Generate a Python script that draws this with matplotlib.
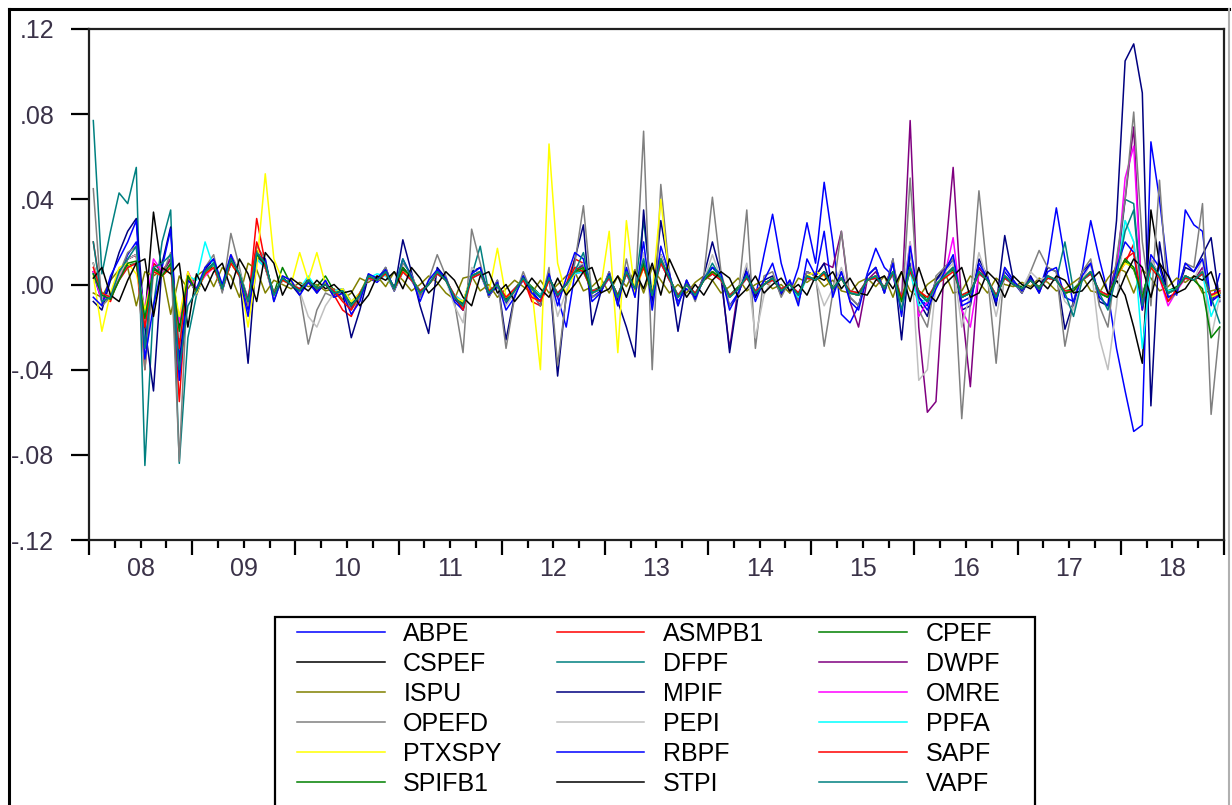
import numpy as np
import matplotlib
matplotlib.use('Agg')
import matplotlib.pyplot as plt
from matplotlib.lines import Line2D
from matplotlib.patches import Rectangle

plt.rcParams['font.family'] = ['Liberation Sans', 'DejaVu Sans']

# monthly observations 2008M01 .. 2018M12, values in thousandths
ABPE = [5, -8, -6, 4, 14, 20, -30, 10, 6, 12, -35, 4,
        -4, 5, 8, -3, 10, 6, -12, 12, 8, -6, 2, 1,
        -4, 3, -3, 1, -5, -2, -8, -6, 3, 1, 5, -3,
        6, 2, -5, 1, 5, 3, -7, -9, 3, 5, -5, -1,
        -9, -4, 2, -3, -8, 4, -6, -20, 5, 10, -6, -3,
        3, -7, 5, -4, 12, -8, 14, 4, -8, -2, -6, 3,
        8, 4, -10, -4, 6, -6, 14, 33, 10, -4, 8, 29,
        10, 48, 20, -14, -18, -10, 5, 17, 8, 4, -12, 10,
        -6, -10, 2, 6, 12, -8, -6, 8, 3, -8, 6, 1,
        -4, 4, -3, 10, 36, 12, -10, 6, 30, 12, -4, -30,
        -50, -69, -66, 67, 40, 5, -5, 35, 28, 25, -10, 5]
ASMPB1 = [20, -6, -8, 4, 12, 14, -40, 10, 6, 12, -55, 6,
          -4, 6, 10, -2, 14, 6, -10, 31, 10, -6, 3, 0,
          -4, 2, -2, 0, -5, -12, -15, -6, 4, 2, 6, -2,
          8, 3, -4, 0, 6, 2, -6, -10, 4, 6, -4, 0,
          -8, -3, 3, -8, -10, 3, -5, 0, 12, 10, -4, -2,
          4, -6, 6, -2, 10, -5, 14, 3, -6, 0, -5, 2,
          6, 3, -6, -2, 4, -4, 0, 3, -3, 0, -5, 4,
          2, 6, -2, 3, -4, -5, 2, 4, -2, 6, -8, 8,
          -4, -8, 0, 4, 8, -6, -4, 6, 2, -6, 4, 0,
          -2, 2, -2, 4, 2, -4, -3, 2, 6, -4, -6, 4,
          10, 19, -12, 10, 4, -4, -2, 4, 2, 6, -6, -4]
CPEF = [6, -4, -5, 3, 9, 10, -14, 7, 5, 9, -18, 5,
        -2, 5, 9, -1, 11, 6, -7, 13, 9, -4, 8, 0,
        -2, 2, -1, 4, -3, -3, -9, -4, 4, 2, 5, -1,
        7, 3, -3, 0, 5, 2, -5, -9, 4, 5, -3, 0,
        -7, -2, 3, -1, -5, 3, -4, 0, 5, 7, -3, -1,
        3, -5, 5, -1, 9, -4, 11, 3, -5, 0, -4, 2,
        5, 3, -5, -1, 3, -3, 0, 3, -2, 0, -4, 3,
        2, 5, -1, 3, -3, -4, 2, 3, -1, 5, -7, 7,
        -3, -7, 0, 3, 7, -5, -3, 5, 2, -5, 3, 0,
        -1, 2, -1, 3, 2, -3, -2, 2, 5, -3, -5, 3,
        11, 7, -5, 9, 3, -3, -1, 3, 2, 5, -5, -3]
CSPEF = [10, -6, -5, 4, 12, 14, -16, 34, 6, 8, -20, 5,
         -3, 6, 10, -2, 12, 5, -8, 16, 8, -5, 3, 0,
         -3, 2, -2, 0, -4, -3, -10, -5, 4, 2, 6, -2,
         8, 3, -4, 0, 6, 2, -6, -10, 4, 6, -4, 0,
         -8, -3, 3, -2, -6, 3, -5, 0, 6, 8, -4, -2,
         4, -6, 6, -2, 10, -5, 12, 3, -6, 0, -5, 2,
         6, 3, -6, -2, 4, -4, 0, 3, -3, 0, -5, 4,
         2, 6, -2, 3, -4, -5, 2, 4, -2, 6, -8, 8,
         -4, -8, 0, 4, 8, -6, -4, 6, 2, -6, 4, 0,
         -2, 2, -2, 4, 2, -4, -3, 2, 6, -4, -6, 2,
         -5, -20, -37, 35, 10, -4, -2, 4, 2, 6, -6, -4]
DFPF = [77, 5, 25, 43, 38, 55, -85, -10, 20, 35, -84, -25,
        -5, 6, 10, -2, 12, 6, -8, 14, 10, -6, 3, 0,
        -3, 2, -2, 0, -4, -3, -10, -5, 4, 2, 6, -2,
        8, 3, -4, 0, 6, 2, -6, -8, 4, 18, -4, 0,
        -8, -3, 3, -2, -6, 3, -5, 0, 6, 10, -4, -2,
        4, -6, 6, -2, 30, -5, 14, 3, -6, 0, -5, 2,
        8, 3, -6, -2, 4, -4, 0, 3, -3, 0, -5, 4,
        2, 6, -2, 3, -4, -5, 2, 4, -2, 6, -8, 8,
        -4, -8, 0, 4, 8, -6, -4, 6, 2, -6, 4, 0,
        -2, 2, -2, 4, 2, 20, -3, 2, 6, -4, -6, 4,
        40, 38, -6, 10, 4, -4, -2, 4, 2, 6, -6, -4]
DWPF = [6, -6, -6, 3, 12, 14, -20, 8, 5, 12, -28, 4,
        -3, 6, 10, -2, 12, 5, -9, 14, 9, -5, 3, 0,
        -3, 2, -3, 0, -4, -3, -11, -5, 4, 2, 6, -2,
        8, 3, -5, 0, 6, 2, -7, -10, 4, 6, -4, 0,
        -8, -3, 3, -2, -6, 3, -6, 0, 6, 9, -4, -2,
        4, -6, 6, -2, 11, -5, 12, 3, -6, 0, -5, 2,
        6, 3, -30, -2, 4, -4, 0, 3, -3, 0, -5, 6,
        4, 10, 8, 25, -8, -20, 2, 6, -2, 10, -8, 77,
        -20, -60, -55, 10, 55, -10, -48, 8, 2, -6, 4, 0,
        -2, 2, -2, 4, 2, -4, -3, 2, 6, -4, -6, 10,
        40, 74, -10, 12, 4, -4, -2, 4, 2, 8, -8, -4]
ISPU = [-4, -6, 2, 7, 8, -10, 6, 4, 7, -14, 4, -2,
        4, 7, -1, 8, 4, -6, 10, 7, -4, 2, 0, -2,
        1, -1, 0, -3, -2, -7, -4, 3, 1, 4, -1, 6,
        2, -3, 0, 4, 1, -4, -7, 3, 4, -3, 0, -6,
        -2, 2, -1, -4, 2, -4, 0, 4, 6, -3, -1, 3,
        -4, 4, -1, 7, -4, 8, 2, -4, 0, -4, 1, 4,
        2, -4, -1, 3, -3, 0, 2, -2, 0, -4, 3, 1,
        4, -1, 2, -3, -4, 1, 3, -1, 4, -6, 6, -3,
        -6, 0, 3, 6, -4, -3, 4, 1, -4, 3, 0, -1,
        1, -1, 3, 1, -3, -2, 1, 4, -3, -4, 3, 8,
        6, -4, 7, 3, -3, -1, 3, 1, 4, -4, -3, -2]
MPIF = [-8, -12, 2, 15, 25, 31, -20, -50, 10, 27, -40, 3,
        -4, 7, 12, -3, 13, 4, -37, 14, 10, -6, 3, 0,
        -5, 3, -4, 1, -6, -4, -25, -12, 4, 2, 8, -3,
        21, 6, -10, -23, 8, 3, -6, -12, 6, 8, -6, 2,
        -26, -5, 4, -4, -10, 6, -43, -5, 12, 28, -19, -4,
        6, -8, -20, -34, 35, -10, 30, 6, -22, 2, -6, 4,
        20, 5, -32, -5, 8, -6, 2, 4, -5, 2, -8, 6,
        4, 10, -4, 6, -6, -10, 4, 8, -4, 12, -26, 15,
        -8, -15, 2, 8, 12, -12, -10, 12, 4, -10, 23, 2,
        -4, 4, -4, 8, 6, -21, -8, 6, 10, -8, -10, 30,
        105, 113, 90, -57, 20, -6, -4, 8, 6, 14, 22, -8]
OMRE = [6, -8, -4, 4, 8, 10, -12, 12, 6, 8, -18, 6,
        -2, 4, 8, -2, 10, 4, -6, 12, 8, -4, 2, 0,
        -2, 2, -2, 0, -3, -2, -8, -4, 3, 2, 5, -2,
        6, 2, -3, 0, 5, 2, -5, -8, 3, 5, -3, 0,
        -6, -2, 2, -2, -5, 2, -4, 0, 5, 6, -3, -2,
        3, -5, 5, -2, 8, -4, 10, 2, -5, 0, -4, 2,
        5, 2, -5, -2, 3, -3, 0, 2, -2, 0, -4, 3,
        2, 5, -2, 3, -3, -4, 2, 3, -2, 5, -10, 20,
        -15, -8, 0, 4, 22, -12, -20, 5, 2, -5, 3, 0,
        -2, 2, -2, 3, 2, -3, -3, 2, 5, -3, -5, 3,
        50, 65, -10, 8, 3, -10, -3, 3, 2, 5, -5, -3]
OPEFD = [45, -10, -6, 5, 15, 18, -40, 6, 4, 15, -83, 5,
         -5, 8, 14, -4, 24, 8, -10, 18, 12, -8, 4, 2,
         -4, -28, -12, -4, -6, -4, -12, -6, 5, 2, 8, -3,
         10, 5, -6, 2, 14, 4, -8, -32, 26, 10, -6, 2,
         -30, -6, 6, -4, -10, 8, -38, -6, 10, 37, -6, -4,
         6, -10, 12, -6, 72, -40, 47, 5, -10, 2, -8, 4,
         41, 6, -10, -6, 35, -30, 4, 6, -6, 2, -8, 6,
         4, -29, -4, 25, -6, -10, 4, 8, -4, 12, -14, 50,
         -12, -20, 4, 8, 12, -63, -8, 44, 4, -37, 8, 2,
         -4, 6, 16, 8, 6, -29, -8, 6, 12, -10, -20, 12,
         40, 81, 20, -10, 49, -8, -4, 10, 8, 38, -61, -20]
PEPI = [10, -6, -4, 4, 12, 14, -18, 6, 4, 10, -25, 4,
        -4, 6, 10, -2, 14, 6, -8, 12, 8, -6, 2, 1,
        -3, -15, -20, -10, -4, -3, -8, -4, 3, 2, 5, -2,
        6, 3, -4, 1, 6, 2, -10, -18, 8, 5, -4, 0,
        -10, -4, 3, -2, -6, 4, -15, -3, 8, 10, -4, -2,
        4, -6, 6, -3, 15, -12, 14, 3, -6, 0, -5, 2,
        14, 3, -6, -3, 10, -25, -5, 3, -3, 0, -5, 4,
        2, -10, -2, 8, -4, -5, 2, 4, -2, 6, -10, 20,
        -45, -40, 0, 6, 10, -20, -4, 15, 2, -15, 4, 0,
        -2, 6, 2, 4, 2, -8, -12, 2, 10, -25, -40, -10,
        30, 20, -10, 12, 4, -4, -2, 4, 2, 12, -25, -6]
PPFA = [5, -4, -6, 2, 8, 10, -14, 6, 4, 8, -30, 4,
        2, 20, 8, -2, 10, 4, -7, 12, 8, -4, 2, 0,
        -2, 4, -2, 0, -3, -2, -8, -4, 3, 5, 4, -2,
        6, 2, -3, 0, 5, 2, -5, -8, 3, 5, -3, 0,
        -6, -2, 2, -2, -5, 2, -4, 0, 5, 6, -3, -2,
        3, -5, 5, -2, 8, -4, 10, 2, -5, 0, -4, 2,
        5, 2, -5, -2, 3, -3, 0, 2, -2, 0, -6, 3,
        2, 5, -2, 3, -3, -4, 2, 3, -2, 5, -6, 6,
        -10, -6, 0, 4, 6, -5, -3, 5, 2, -5, 3, 0,
        -2, 2, -2, 3, 2, -3, -3, 2, 5, -3, -5, 3,
        30, 20, -30, 8, 3, -3, -2, 3, 2, 5, -15, -5]
PTXSPY = [4, -22, -4, 8, 10, 5, -12, 6, 4, 8, -15, 6,
          -4, 5, 8, -2, 10, 4, -20, 8, 52, 12, 2, 0,
          15, 2, 15, 0, -4, -2, -8, -4, 4, 2, 5, -2,
          6, 3, -4, 0, 6, 2, -6, -8, 4, 6, -4, 17,
          -6, -3, 3, -2, -40, 66, 10, -5, 6, 8, -4, -2,
          25, -32, 30, -4, 8, -5, 40, 3, -6, 0, -5, 2,
          6, 3, -6, -2, 4, -4, 0, 3, -3, 0, -5, 4,
          6, 4, -2, 3, -4, -5, 2, 4, -2, 6, -8, 8,
          -4, -8, 0, 4, 8, -6, -4, 6, 2, -6, 4, 0,
          -2, 2, -2, 4, 2, -4, -3, 2, 6, -4, -6, 4,
          10, 8, -6, 8, 4, -4, -2, 4, 2, 6, -6, -4]
RBPF = [-6, -10, 4, 12, 20, 30, -35, -10, 8, 26, -45, 2,
        -2, 8, 12, 0, 14, 4, -15, 14, 12, -8, 4, 2,
        -5, 1, -4, 2, -6, -4, -14, -8, 5, 3, 7, -2,
        12, 4, -8, 2, 7, 3, -8, -12, 5, 8, -5, 1,
        -12, -6, 4, -4, -8, 5, -10, 3, 15, 12, -8, -4,
        5, -10, 8, -6, 20, -12, 18, 5, -10, 2, -7, 3,
        8, 5, -12, -4, 6, -8, 2, 10, -4, 2, -10, 12,
        4, 25, -6, 6, -8, -12, 4, 8, -4, 10, -15, 18,
        -6, -12, -2, 6, 14, -10, -8, 10, 3, -8, 8, 2,
        -3, 3, -4, 6, 8, -6, -8, 4, 10, -6, -10, 8,
        20, 15, -12, 14, 8, -6, -4, 10, 6, 12, -8, -5]
SAPF = [8, -4, -6, 2, 8, 10, -20, 6, 4, 8, -30, 4,
        -3, 5, 8, -2, 10, 4, -7, 20, 8, -4, 2, 0,
        -2, 2, -2, 0, -3, -8, -12, -4, 3, 2, 5, -2,
        6, 2, -3, 0, 5, 2, -5, -12, 3, 5, -3, 0,
        -6, -2, 2, -6, -8, 2, -4, 0, 8, 6, -3, -2,
        3, -5, 5, -2, 8, -4, 10, 2, -5, 0, -4, 2,
        5, 2, -5, -2, 3, -3, 0, 2, -2, 0, -4, 3,
        2, 5, -2, 3, -3, -4, 2, 3, -2, 5, -6, 6,
        -3, -6, 0, 3, 6, -5, -3, 5, 2, -5, 3, 0,
        -2, 2, -2, 3, 2, -3, -3, 2, 5, -3, -5, 3,
        12, 15, -8, 8, 3, -8, -2, 3, 2, 5, -5, -3]
SPIFB1 = [5, -5, -7, 2, 10, 11, -16, 8, 4, 10, -22, 4,
          -3, 6, 10, -2, 12, 5, -8, 14, 10, -5, 3, 0,
          -3, 2, -2, 0, -4, -3, -10, -5, 4, 2, 6, -2,
          8, 3, -4, 0, 6, 2, -6, -10, 4, 6, -4, 0,
          -8, -3, 3, -2, -6, 3, -5, 0, 6, 8, -4, -2,
          4, -6, 6, -2, 10, -5, 12, 3, -6, 0, -5, 2,
          6, 3, -6, -2, 4, -4, 0, 3, -3, 0, -5, 4,
          2, 6, -2, 3, -4, -5, 2, 4, -2, 6, -8, 8,
          -4, -8, 0, 4, 8, -6, -4, 6, 2, -6, 4, 0,
          -2, 2, -2, 4, 2, -4, -3, 2, 6, -4, -6, 4,
          12, 8, -6, 10, 4, -4, -2, 4, 2, -2, -25, -20]
STPI = [3, 8, -5, -8, 2, 10, 12, -15, 8, 5, 10, -20,
        5, -3, 6, 10, -2, 12, 5, -8, 15, 10, -5, 3,
        0, -3, 2, -2, 0, -4, -3, -10, -5, 4, 2, 6,
        -2, 8, 3, -4, 0, 6, 2, -6, -10, 4, 6, -4,
        0, -8, -3, 3, -2, -6, 3, -5, 0, 6, 8, -4,
        -2, 4, -6, 6, -2, 10, -5, 12, 3, -6, 0, -5,
        2, 6, 3, -6, -2, 4, -4, 0, 3, -3, 0, -5,
        4, 2, 6, -2, 3, -4, -5, 2, 4, -2, 6, -8,
        8, -4, -8, 0, 4, 8, -6, -4, 6, 2, -6, 4,
        0, -2, 2, -2, 4, 2, -4, -3, 2, 6, -4, -6,
        4, 12, 8, -6, 10, 4, -4, -2, 4, 2, 6, -6]
VAPF = [20, -8, -6, 6, 12, 18, -30, 8, 10, 14, -40, -10,
        -3, 6, 10, -2, 12, 5, -8, 15, 10, -5, 3, 0,
        -3, 2, -2, 0, -4, -3, -10, -5, 4, 2, 6, -2,
        12, 3, -4, 0, 6, 2, -6, -10, 4, 6, -4, 0,
        -8, -3, 3, -2, -6, 3, -5, 0, 6, 15, -4, -2,
        4, -6, 6, -2, 12, -5, 12, 3, -6, 0, -5, 2,
        10, 3, -6, -2, 4, -4, 0, 3, -3, 0, -5, 4,
        2, 6, -2, 3, -4, -5, 2, 4, -2, 6, -12, 8,
        -4, -8, 0, 4, 8, -6, -4, 6, 2, -6, 4, 0,
        -2, 2, -2, 4, 2, -4, -15, 2, 6, -4, -12, 4,
        25, 35, -10, 10, 4, -4, -2, 4, 2, 6, -6, -18]

names = ['ABPE', 'ASMPB1', 'CPEF', 'CSPEF', 'DFPF', 'DWPF', 'ISPU', 'MPIF',
         'OMRE', 'OPEFD', 'PEPI', 'PPFA', 'PTXSPY', 'RBPF', 'SAPF',
         'SPIFB1', 'STPI', 'VAPF']
series = [ABPE, ASMPB1, CPEF, CSPEF, DFPF, DWPF, ISPU, MPIF, OMRE, OPEFD,
          PEPI, PPFA, PTXSPY, RBPF, SAPF, SPIFB1, STPI, VAPF]
colors = ['#0000ff', '#ff0000', '#008000', '#000000', '#008080', '#800080',
          '#808000', '#000080', '#ff00ff', '#808080', '#c0c0c0', '#00ffff',
          '#ffff00', '#0000ff', '#ff0000', '#008000', '#000000', '#008080']

years = np.arange(2008, 2019)
year_labels = ['08', '09', '10', '11', '12', '13', '14', '15', '16', '17', '18']
yticks = [-0.12, -0.08, -0.04, 0.0, 0.04, 0.08, 0.12]
ytick_labels = ['-.12', '-.08', '-.04', '.00', '.04', '.08', '.12']

t = 2008 + (np.arange(len(ABPE)) + 0.5) / 12.0

W, H = 1232, 805
fig = plt.figure(figsize=(W / 100, H / 100), dpi=100)
ax = fig.add_axes([89 / W, 1 - 540 / H, 1135 / W, 511 / H])

handles = {}
for name, vals, c in zip(names, series, colors):
    ln, = ax.plot(t, np.array(vals) / 1000.0, color=c, lw=1.1)
    handles[name] = ln

ax.set_xlim(2008, 2019)
ax.set_ylim(-0.12, 0.12)
ax.set_yticks(yticks)
ax.set_yticklabels(ytick_labels)
ax.set_xticks(np.append(years, 2019))
ax.set_xticklabels([])
ax.set_xticks(np.arange(2008, 2019, 0.25), minor=True)
ax.tick_params(axis='y', which='major', direction='out', length=13, width=1.6,
               pad=12, labelsize=18, labelcolor='#3a3248', right=False)
ax.tick_params(axis='x', which='major', direction='out', length=11, width=1.6)
ax.tick_params(axis='x', which='minor', direction='out', length=6, width=1.6)
ax.tick_params(axis='y', which='minor', left=False)
for s in ax.spines.values():
    s.set_linewidth(1.6)
    s.set_color('#202020')

for y, lab in zip(years, year_labels):
    ax.text(y + 0.5, -0.034, lab, transform=ax.get_xaxis_transform(),
            ha='center', va='top', fontsize=18, color='#3a3248')

# outer frame of the graph window
fig.add_artist(Line2D([9 / W, 9 / W], [0, 1 - 9 / H], color='black', lw=2.2))
fig.add_artist(Line2D([9 / W, 1229 / W], [1 - 9 / H, 1 - 9 / H], color='black', lw=2.2))
fig.add_artist(Line2D([1229 / W, 1229 / W], [0, 1 - 9 / H], color='#b0b0b0', lw=1.5))

# legend box (runs past the bottom edge, as in the original)
fig.add_artist(Rectangle((275 / W, -0.02), (1035 - 275) / W, 0.02 + 1 - 617 / H,
                         transform=fig.transFigure, fill=False,
                         edgecolor='black', lw=1.6))

# legend entries in row order, three columns
rows = [['ABPE', 'ASMPB1', 'CPEF'], ['CSPEF', 'DFPF', 'DWPF'],
        ['ISPU', 'MPIF', 'OMRE'], ['OPEFD', 'PEPI', 'PPFA'],
        ['PTXSPY', 'RBPF', 'SAPF'], ['SPIFB1', 'STPI', 'VAPF']]
order = [rows[r][c] for c in range(3) for r in range(6)]
leg = fig.legend([handles[n] for n in order], order, ncol=3,
                 loc='upper left', bbox_to_anchor=(297 / W, 1 - 622 / H),
                 bbox_transform=fig.transFigure, fontsize=18, frameon=False,
                 handlelength=3.5, handletextpad=0.75, columnspacing=2.2,
                 labelspacing=0.24, borderpad=0, borderaxespad=0)

fig.savefig('out.png', dpi=100)
